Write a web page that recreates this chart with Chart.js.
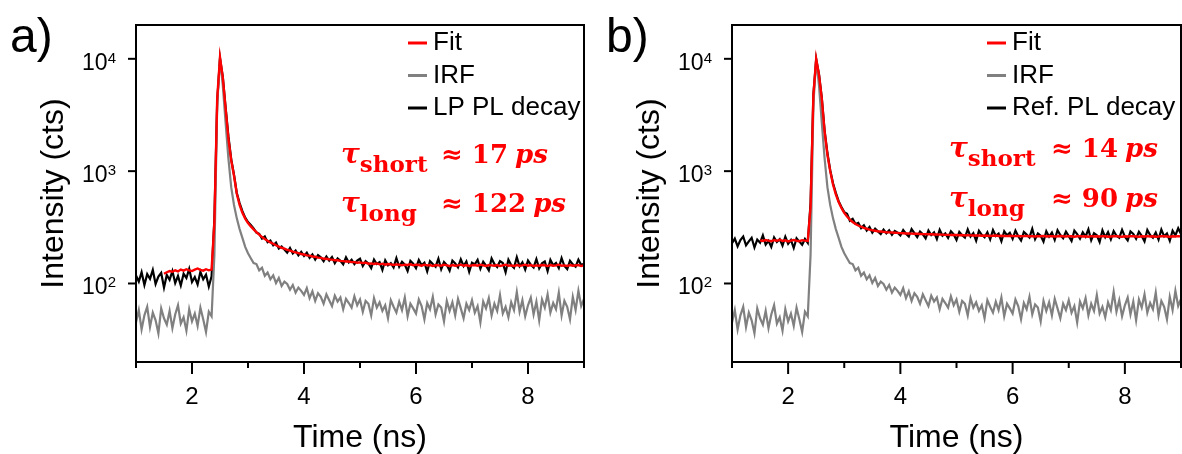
<!DOCTYPE html>
<html>
<head>
<meta charset="utf-8">
<script src="https://cdn.jsdelivr.net/npm/chart.js@4.4.0/dist/chart.umd.min.js"></script>
<style>
  html, body { margin: 0; padding: 0; background: #fff; }
  #wrap { position: relative; width: 1182px; height: 454px; overflow: hidden; }
  #wrap canvas { position: absolute; top: 0; }
</style>
</head>
<body>
<div id="wrap">
  <canvas id="chartA" width="591" height="454" style="left:0px"></canvas>
  <canvas id="chartB" width="586" height="454" style="left:596px"></canvas>
</div>
<script>
// time bins (ns)
const timeNs = [
  1.00,1.05,1.10,1.15,1.20,1.25,1.30,1.35,1.40,1.45,1.50,1.55,1.60,1.65,1.70,1.75,1.80,1.85,1.90,1.95,
  2.00,2.05,2.10,2.15,2.20,2.25,2.30,2.35,2.40,2.45,2.50,2.55,2.60,2.65,2.70,2.75,2.80,2.85,2.90,2.95,
  3.00,3.05,3.10,3.15,3.20,3.25,3.30,3.35,3.40,3.45,3.50,3.55,3.60,3.65,3.70,3.75,3.80,3.85,3.90,3.95,
  4.00,4.05,4.10,4.15,4.20,4.25,4.30,4.35,4.40,4.45,4.50,4.55,4.60,4.65,4.70,4.75,4.80,4.85,4.90,4.95,
  5.00,5.05,5.10,5.15,5.20,5.25,5.30,5.35,5.40,5.45,5.50,5.55,5.60,5.65,5.70,5.75,5.80,5.85,5.90,5.95,
  6.00,6.05,6.10,6.15,6.20,6.25,6.30,6.35,6.40,6.45,6.50,6.55,6.60,6.65,6.70,6.75,6.80,6.85,6.90,6.95,
  7.00,7.05,7.10,7.15,7.20,7.25,7.30,7.35,7.40,7.45,7.50,7.55,7.60,7.65,7.70,7.75,7.80,7.85,7.90,7.95,
  8.00,8.05,8.10,8.15,8.20,8.25,8.30,8.35,8.40,8.45,8.50,8.55,8.60,8.65,8.70,8.75,8.80,8.85,8.90,8.95,
  9.00
];

// panel a) counts
const fitA = [
  null,null,null,null,null,null,null,null,null,null,122,126,129,127,131,128,133,130,134,131,
  129,133,136,132,130,134,131,133,350,4400,10300,6800,3600,1950,1250,910,630,500,425,378,
  345,322,303,287,272,259,249,240,232,226,219,213,208,204,199,196,192,189,186,183,
  181,178,177,174,173,170,169,166,166,164,163,161,161,159,158,157,157,155,155,153,
  154,152,153,150,151,149,151,148,150,147,149,148,146,148,147,145,147,146,148,145,
  147,146,144,147,145,146,143,146,145,144,147,145,143,146,144,145,147,144,146,143,
  145,146,144,147,145,143,146,145,144,146,143,145,147,144,145,143,146,144,145,147,
  144,146,143,145,144,146,145,143,146,144,145,147,144,145,143,146,144,145,146,143,
  145
];
const plA = [
  118,104,126,97,121,110,132,99,115,124,92,119,108,129,101,117,96,122,112,135,
  103,114,98,127,109,120,94,116,380,4200,10100,6900,3700,2050,1280,930,640,520,440,385,
  352,331,309,284,277,251,262,233,241,219,231,205,214,201,188,207,185,196,178,191,
  176,188,169,181,163,179,171,158,174,160,172,152,167,159,148,171,154,163,149,160,
  166,143,158,151,137,163,149,155,132,161,145,152,139,168,141,156,147,129,159,150,
  137,162,145,153,128,158,149,141,166,134,155,146,130,160,151,139,164,143,157,127,
  153,148,162,135,156,144,131,167,149,140,158,152,126,163,146,138,171,142,154,133,
  160,147,139,165,136,151,157,129,162,145,152,137,168,143,134,159,148,141,163,146,
  150
];

// instrument response (same measurement in both panels)
const irfCounts = [
  45,58,39,52,62,41,55,47,36,60,49,43,57,40,53,64,44,50,38,59,
  46,54,42,61,48,37,56,51,180,3900,10000,5800,2700,1300,720,500,380,305,255,212,
  186,168,152,149,131,138,117,125,109,118,101,112,95,104,99,88,97,83,92,86,
  79,91,74,85,70,82,76,66,80,71,63,78,69,75,59,73,67,61,77,64,
  72,56,70,66,52,74,61,68,57,64,49,71,62,55,69,58,75,51,66,60,
  54,72,63,48,67,59,76,53,65,61,46,70,57,68,52,73,60,49,66,58,
  71,55,63,45,69,60,74,52,66,57,79,54,62,50,68,58,84,56,71,51,
  64,75,53,69,47,72,61,80,55,67,59,83,52,70,62,48,76,58,86,63,
  73
];

// panel b) counts
const fitB = [
  null,null,null,null,null,null,null,null,null,null,242,239,244,241,238,243,240,245,239,242,
  237,241,244,240,238,243,241,239,480,4700,10000,7200,4400,2250,1400,1000,760,620,530,470,
  425,395,370,352,338,328,320,313,307,302,298,295,292,290,288,286,285,284,283,282,
  281,280,279,279,278,277,277,276,275,275,274,274,273,273,272,272,271,271,270,270,
  270,269,270,268,269,268,267,268,267,266,267,266,265,266,267,265,266,265,264,266,
  265,264,265,263,264,265,263,264,262,264,263,265,262,263,264,262,263,265,263,262,
  264,263,261,263,264,262,263,261,264,262,263,262,264,263,261,262,263,264,262,261,
  263,262,264,263,262,261,263,262,264,262,263,261,262,264,263,262,261,263,262,264,
  262
];
const plB = [
  228,251,214,243,262,219,237,255,209,246,231,268,222,240,212,257,234,248,217,261,
  226,244,207,253,236,221,249,230,520,4800,9900,7300,4500,2300,1450,1020,780,640,540,480,
  432,418,362,377,339,347,311,329,296,318,284,307,291,276,302,280,297,271,293,283,
  268,299,277,262,305,281,259,290,274,252,296,270,285,249,301,266,279,255,292,273,
  244,288,269,256,303,262,281,240,294,271,258,286,247,299,265,278,238,291,268,283,
  250,296,263,241,287,272,257,306,248,279,266,236,292,261,284,245,298,270,253,289,
  264,239,295,275,251,286,262,304,243,280,269,234,297,258,287,247,293,266,255,300,
  261,242,290,276,250,288,265,237,299,270,256,284,246,302,263,279,240,295,268,310,
  275
];

const xTickValues = [1, 2, 3, 4, 5, 6, 7, 8, 9];
const yDecades = [2, 3, 4];
const labelsA = ["Fit", "IRF", "LP PL decay"];
const labelsB = ["Fit", "IRF", "Ref. PL decay"];
const tauA = ["17", "122"];
const tauB = ["14", "90"];

const SANS = "'Liberation Sans', Arial, sans-serif";
const SERIF = "'DejaVu Serif', serif";
Chart.defaults.font.family = SANS;
Chart.defaults.color = "#000";

function toPoints(vals) {
  return vals.map((v, i) => ({ x: timeNs[i], y: v }));
}

// frame, tick marks, superscript labels, legend and lifetimes
const panelDecor = {
  id: "panelDecor",
  afterDraw(chart, args, opts) {
    const ctx = chart.ctx;
    const area = chart.chartArea;
    const xs = chart.scales.x, ys = chart.scales.y;
    ctx.save();
    ctx.strokeStyle = "#000";
    ctx.lineWidth = 2;
    ctx.strokeRect(area.left, area.top, area.right - area.left, area.bottom - area.top);

    xTickValues.forEach(v => {
      const px = xs.getPixelForValue(v);
      const len = v % 2 === 0 ? 12 : 6;
      ctx.beginPath();
      ctx.moveTo(px, area.bottom);
      ctx.lineTo(px, area.bottom + len);
      ctx.stroke();
    });

    ctx.fillStyle = "#000";
    ctx.textAlign = "right";
    ctx.textBaseline = "alphabetic";
    yDecades.forEach(e => {
      const py = ys.getPixelForValue(Math.pow(10, e));
      ctx.beginPath();
      ctx.moveTo(area.left - 8, py);
      ctx.lineTo(area.left, py);
      ctx.stroke();
      const right = area.left - 20;
      ctx.font = "15px " + SANS;
      ctx.fillText(String(e), right, py + 4);
      const w = ctx.measureText(String(e)).width;
      ctx.font = "23px " + SANS;
      ctx.fillText("10", right - w, py + 11);
    });

    // panel tag
    ctx.textAlign = "left";
    ctx.font = "48px " + SANS;
    ctx.fillText(opts.tag, 10, 52);

    // legend
    ctx.textBaseline = "middle";
    ctx.font = "26px " + SANS;
    chart.data.datasets.forEach((ds, k) => {
      const y = opts.legendY + k * 32.5;
      ctx.strokeStyle = ds.borderColor;
      ctx.lineWidth = 3;
      ctx.beginPath();
      ctx.moveTo(opts.legendX, y);
      ctx.lineTo(opts.legendX + 19, y);
      ctx.stroke();
      ctx.fillStyle = "#000";
      ctx.fillText(ds.label, opts.legendX + 25, y);
    });

    // lifetimes
    ctx.fillStyle = "#ff0000";
    ctx.textBaseline = "alphabetic";
    const subs = ["short", "long"];
    opts.tau.forEach((val, k) => {
      const y = opts.noteY[k];
      ctx.font = "bold italic 28px " + SERIF;
      ctx.fillText("\u03c4", opts.noteX, y);
      const tw = ctx.measureText("\u03c4").width;
      ctx.font = "bold 23px " + SERIF;
      ctx.fillText(subs[k], opts.noteX + tw, y + 9);
      ctx.font = "bold 26px " + SERIF;
      const main = "\u2248 " + val + " ";
      ctx.fillText(main, opts.noteX2, y);
      const mw = ctx.measureText(main).width;
      ctx.font = "bold italic 26px " + SERIF;
      ctx.fillText("ps", opts.noteX2 + mw - 2, y);
    });
    ctx.restore();
  }
};

function makePanel(canvasId, fit, pl, labels, padRight, decor) {
  return new Chart(document.getElementById(canvasId), {
    type: "line",
    data: {
      datasets: [
        { label: labels[0], data: toPoints(fit), borderColor: "#ff0000", borderWidth: 2.4 },
        { label: labels[1], data: toPoints(irfCounts), borderColor: "#808080", borderWidth: 2.2 },
        { label: labels[2], data: toPoints(pl), borderColor: "#000000", borderWidth: 2.2 }
      ]
    },
    options: {
      responsive: false,
      animation: false,
      elements: { point: { radius: 0 }, line: { tension: 0 } },
      layout: { padding: { top: 25, right: padRight, bottom: 0, left: 0 } },
      plugins: {
        legend: { display: false },
        tooltip: { enabled: false },
        panelDecor: decor
      },
      scales: {
        x: {
          type: "linear", min: 1, max: 9,
          grid: { display: false }, border: { display: false },
          ticks: {
            stepSize: 1, autoSkip: false, maxRotation: 0, padding: 13,
            font: { size: 24 },
            callback: v => (v % 2 === 0 ? String(v) : "")
          },
          title: { display: true, text: "Time (ns)", font: { size: 32, lineHeight: 1 }, padding: { top: 0, bottom: 0 } },
          afterFit: s => { s.height = 92; s.paddingLeft = 0; s.paddingRight = 0; }
        },
        y: {
          type: "logarithmic", min: 20, max: 20000,
          grid: { display: false }, border: { display: false },
          ticks: { display: false },
          title: { display: true, text: "Intensity (cts)", font: { size: 32, lineHeight: 1 }, padding: { top: 38, bottom: 0 } },
          afterFit: s => { s.width = 136; }
        }
      }
    },
    plugins: [panelDecor]
  });
}

makePanel("chartA", fitA, plA, labelsA, 7, {
  tag: "a)", legendX: 408, legendY: 43, tau: tauA, noteX: 341, noteX2: 441, noteY: [163, 212]
});
makePanel("chartB", fitB, plB, labelsB, 1, {
  tag: "b)", legendX: 391, legendY: 43, tau: tauB, noteX: 353, noteX2: 455, noteY: [157, 207]
});
</script>
</body>
</html>
